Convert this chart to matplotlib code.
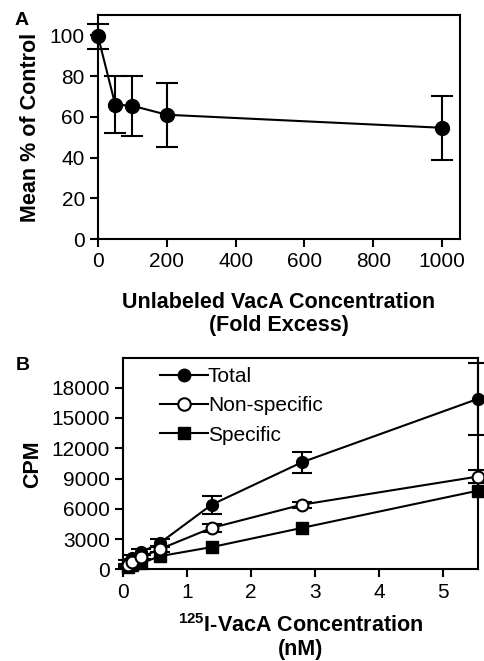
import matplotlib
matplotlib.use('Agg')
import matplotlib.pyplot as plt
from matplotlib.lines import Line2D

plt.rcParams['font.family'] = ['Liberation Sans', 'DejaVu Sans']
plt.rcParams['mathtext.fontset'] = 'custom'
plt.rcParams['mathtext.bf'] = 'Liberation Sans:bold'

# panel A: competition with unlabeled VacA
fold_excess = [0, 50, 100, 200, 1000]
pct_control = [99.5, 66, 65.4, 61, 54.6]
pct_err = [6, 14, 14.8, 15.7, 15.7]

# panel B: binding of 125I-VacA
conc_nm = [0.07, 0.14, 0.28, 0.57, 1.38, 2.79, 5.55]
total_cpm = [600, 1100, 1700, 2600, 6400, 10600, 16900]
total_err = [300, 300, 300, 400, 900, 1050, 3550]
nonspec_cpm = [400, 700, 1200, 2000, 4100, 6400, 9200]
nonspec_err = [150, 150, 200, 300, 400, 300, 600]
spec_cpm = [200, 400, 600, 1300, 2200, 4100, 7800]
series_names = ['Total', 'Non-specific', 'Specific']

tick_fs = 15
label_fs = 15.5

fig = plt.figure(figsize=(4.84, 6.61), dpi=100)

axA = fig.add_axes([0.2025, 0.6384, 0.748, 0.339])
axA.errorbar(fold_excess, pct_control, yerr=pct_err, color='black', lw=1.5,
             marker='o', ms=10, capsize=8, elinewidth=1.5, capthick=1.5,
             clip_on=False, zorder=3)
axA.set_xlim(0, 1052)
axA.set_ylim(0, 110)
axA.set_xticks([0, 200, 400, 600, 800, 1000])
axA.set_yticks([0, 20, 40, 60, 80, 100])
axA.set_xlabel('Unlabeled VacA Concentration\n(Fold Excess)',
               fontsize=label_fs, fontweight='bold', labelpad=15,
               linespacing=1.1)
axA.set_ylabel('Mean % of Control', fontsize=label_fs, fontweight='bold',
               labelpad=6)

axB = fig.add_axes([0.2548, 0.1387, 0.733, 0.319])
axB.errorbar(conc_nm, total_cpm, yerr=total_err, color='black', lw=1.5,
             marker='o', ms=8.5, capsize=7, elinewidth=1.5, capthick=1.5,
             clip_on=False, zorder=3)
axB.errorbar(conc_nm, nonspec_cpm, yerr=nonspec_err, color='black', lw=1.5,
             marker='o', ms=8.5, mfc='white', mew=1.5, capsize=7,
             elinewidth=1.5, capthick=1.5, clip_on=False, zorder=3)
axB.plot(conc_nm, spec_cpm, color='black', lw=1.5, marker='s', ms=8,
         clip_on=False, zorder=3)
axB.set_xlim(0, 5.55)
axB.set_ylim(0, 20900)
axB.set_xticks([0, 1, 2, 3, 4, 5])
axB.set_yticks([0, 3000, 6000, 9000, 12000, 15000, 18000])
axB.set_xlabel('$^{\\mathbf{125}}$I-VacA Concentration\n(nM)',
               fontsize=label_fs, fontweight='bold', labelpad=9,
               linespacing=1.1)
axB.set_ylabel('CPM', fontsize=label_fs, fontweight='bold', labelpad=6)

handles = [
    Line2D([], [], color='black', lw=1.5, marker='o', ms=9),
    Line2D([], [], color='black', lw=1.5, marker='o', ms=9, mfc='white',
           mew=1.5),
    Line2D([], [], color='black', lw=1.5, marker='s', ms=8.5),
]
axB.legend(handles, series_names, loc='upper left', frameon=False,
           fontsize=tick_fs, handlelength=2.3, handletextpad=0.0,
           labelspacing=0.5, borderaxespad=0.0,
           bbox_to_anchor=(0.08, 1.0))

for ax in (axA, axB):
    for sp in ax.spines.values():
        sp.set_linewidth(1.5)
    ax.tick_params(direction='out', length=6, width=1.5, labelsize=tick_fs,
                   top=False, right=False)

fig.text(0.03, 0.962, 'A', fontsize=14, fontweight='bold')
fig.text(0.033, 0.44, 'B', fontsize=14, fontweight='bold')

fig.savefig('out.png', dpi=100)
